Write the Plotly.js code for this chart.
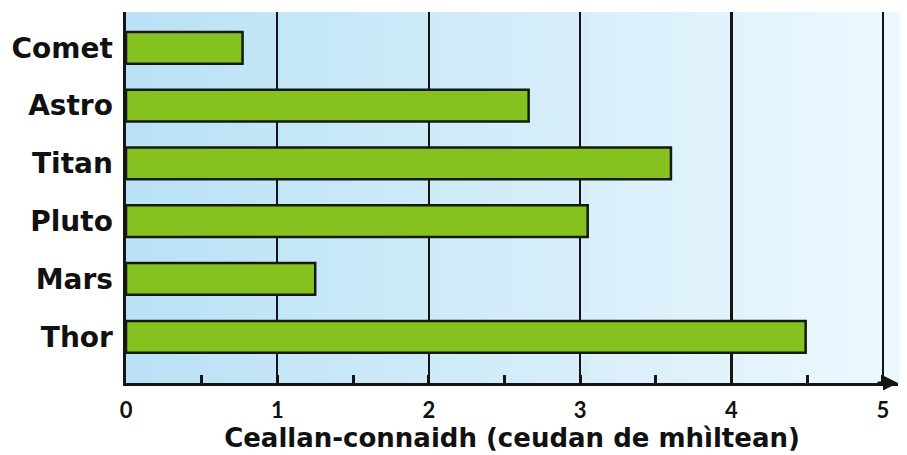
<!DOCTYPE html>
<html>
<head>
<meta charset="utf-8">
<script src="https://cdn.plot.ly/plotly-3.0.1.min.js"></script>
<style>html,body{margin:0;padding:0;background:#fff;}#chart{width:907px;height:455px;}</style>
</head>
<body>
<div id="chart"></div>
<script>
// Data
const categories = ["Comet", "Astro", "Titan", "Pluto", "Mars", "Thor"];
const values = [0.77, 2.66, 3.6, 3.05, 1.25, 4.49];
const xTickVals = [0, 1, 2, 3, 4, 5];
const xTickText = ["0", "1", "2", "3", "4", "5"];
const xTitle = "Ceallan-connaidh (ceudan de mhìltean)";

// background gradient strips (style only)
const bgShapes = [];
const nStrips = 30;
const c0 = [186, 225, 246], c1 = [236, 248, 253];
for (let i = 0; i < nStrips; i++) {
  const t = i / (nStrips - 1);
  const c = c0.map((v, k) => Math.round(v + (c1[k] - v) * t));
  bgShapes.push({
    type: 'rect', xref: 'paper', yref: 'paper', layer: 'below',
    x0: i / nStrips, x1: (i + 1) / nStrips + 0.002, y0: 0, y1: 1,
    fillcolor: `rgb(${c[0]},${c[1]},${c[2]})`, line: {width: 0}
  });
}

const trace = {
  type: 'bar', orientation: 'h',
  x: values, y: categories,
  marker: {color: '#86c21f', line: {color: '#151a10', width: 2.5}},
  hoverinfo: 'x+y'
};

const layout = {
  width: 907, height: 455,
  margin: {l: 126, r: 9, t: 12, b: 72},
  paper_bgcolor: '#ffffff',
  plot_bgcolor: 'rgba(0,0,0,0)',
  showlegend: false,
  bargap: 0.45,
  font: {family: '"DejaVu Sans", sans-serif', color: '#111'},
  xaxis: {
    range: [0, 5.1],
    tickvals: xTickVals, ticktext: xTickText,
    showgrid: true, gridcolor: '#151515', gridwidth: 2.2,
    zeroline: false,
    showline: true, linecolor: '#151515', linewidth: 3,
    ticks: 'inside', ticklen: 8, tickwidth: 3, tickcolor: '#151515',
    minor: {dtick: 0.5, tick0: 0, ticks: 'inside', ticklen: 8, tickwidth: 3, tickcolor: '#151515', showgrid: false},
    ticklabelstandoff: 6,
    tickfont: {family: 'Lato, sans-serif', size: 22, color: '#111', weight: 'bold'},
    title: {text: xTitle, standoff: 0, font: {family: '"DejaVu Sans", sans-serif', size: 26, color: '#111', weight: 'bold'}}
  },
  yaxis: {
    type: 'category',
    categoryorder: 'array', categoryarray: categories,
    range: [5.8, -0.62],
    showgrid: false, zeroline: false,
    showline: true, linecolor: '#151515', linewidth: 3.5,
    ticks: '', ticklabelstandoff: 4,
    tickfont: {family: '"DejaVu Sans", sans-serif', size: 28, color: '#111', weight: 'bold'}
  },
  shapes: bgShapes,
  annotations: [{
    xref: 'x', yref: 'paper', x: 5.1, y: 0,
    axref: 'pixel', ayref: 'pixel', ax: -22, ay: 0,
    showarrow: true, arrowhead: 2, arrowsize: 1, arrowwidth: 3, arrowcolor: '#151515', text: ''
  }]
};

Plotly.newPlot('chart', [trace], layout, {displayModeBar: false, staticPlot: true});
</script>
</body>
</html>
